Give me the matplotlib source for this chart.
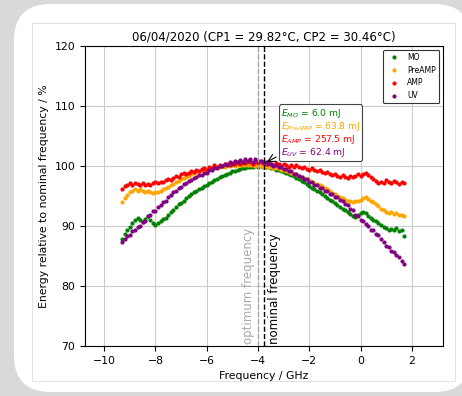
import matplotlib
matplotlib.use("Agg")
import matplotlib.pyplot as plt
from matplotlib.patches import FancyBboxPatch, Rectangle
from matplotlib.offsetbox import TextArea, VPacker, AnnotationBbox

# frequency scan (GHz)
freq = [-9.3, -9.2, -9.1, -9.0, -8.9, -8.8, -8.7, -8.6, -8.5, -8.4,
        -8.3, -8.2, -8.1, -8.0, -7.9, -7.8, -7.7, -7.6, -7.5, -7.4,
        -7.3, -7.2, -7.1, -7.0, -6.9, -6.8, -6.7, -6.6, -6.5, -6.4,
        -6.3, -6.2, -6.1, -6.0, -5.9, -5.8, -5.7, -5.6, -5.5, -5.4,
        -5.3, -5.2, -5.1, -5.0, -4.9, -4.8, -4.7, -4.6, -4.5, -4.4,
        -4.3, -4.2, -4.1, -4.0, -3.9, -3.8, -3.7, -3.6, -3.5, -3.4,
        -3.3, -3.2, -3.1, -3.0, -2.9, -2.8, -2.7, -2.6, -2.5, -2.4,
        -2.3, -2.2, -2.1, -2.0, -1.9, -1.8, -1.7, -1.6, -1.5, -1.4,
        -1.3, -1.2, -1.1, -1.0, -0.9, -0.8, -0.7, -0.6, -0.5, -0.4,
        -0.3, -0.2, -0.1, 0.0, 0.1, 0.2, 0.3, 0.4, 0.5, 0.6,
        0.7, 0.8, 0.9, 1.0, 1.1, 1.2, 1.3, 1.4, 1.5, 1.6,
        1.7]

# energy relative to nominal frequency (%)
mo = [87.8, 88.6, 89.3, 89.9, 90.5, 91.0, 91.3, 91.0, 90.7, 91.2,
      91.7, 91.0, 90.5, 90.2, 90.5, 90.8, 91.1, 91.4, 91.8, 92.3,
      92.7, 93.1, 93.6, 93.9, 94.2, 94.6, 95.0, 95.3, 95.6, 95.9,
      96.2, 96.4, 96.7, 96.9, 97.2, 97.4, 97.7, 97.9, 98.1, 98.3,
      98.5, 98.7, 98.9, 99.1, 99.2, 99.4, 99.5, 99.6, 99.7, 99.8,
      99.8, 99.9, 100.0, 99.9, 100.0, 99.9, 99.8, 99.8, 99.6, 99.6,
      99.4, 99.3, 99.2, 99.0, 98.9, 98.7, 98.5, 98.3, 98.0, 97.8,
      97.5, 97.3, 97.0, 96.7, 96.4, 96.1, 95.8, 95.6, 95.3, 95.0,
      94.7, 94.4, 94.1, 93.8, 93.5, 93.2, 92.9, 92.6, 92.3, 92.0,
      91.6, 91.5, 91.9, 92.2, 92.4, 92.1, 91.7, 91.3, 91.0, 90.8,
      90.5, 90.2, 89.9, 89.6, 89.4, 89.5, 89.3, 89.6, 89.2, 89.4,
      88.4]

preamp = [94.0, 94.6, 95.1, 95.6, 95.8, 96.1, 95.9, 96.1, 95.9, 95.7,
          95.9, 95.6, 95.5, 95.7, 95.6, 95.9, 96.1, 96.3, 96.5, 96.8,
          97.0, 97.3, 97.5, 97.8, 98.0, 98.2, 98.4, 98.6, 98.8, 99.0,
          99.1, 99.3, 99.4, 99.5, 99.6, 99.7, 99.8, 99.8, 99.9, 100.0,
          99.9, 100.1, 100.0, 100.1, 100.0, 100.2, 100.1, 100.2, 100.1, 100.2,
          100.1, 100.2, 100.0, 100.1, 100.0, 99.9, 100.0, 99.8, 99.9, 99.7,
          99.6, 99.6, 99.4, 99.3, 99.2, 99.0, 98.9, 98.7, 98.6, 98.4,
          98.2, 98.0, 97.8, 97.6, 97.4, 97.2, 97.0, 96.8, 96.6, 96.3,
          96.1, 95.8, 95.5, 95.3, 95.0, 94.8, 94.6, 94.4, 94.2, 94.1,
          94.0, 94.2, 94.1, 94.4, 94.6, 94.8, 94.5, 94.2, 94.0, 93.6,
          93.3, 92.9, 92.6, 92.4, 92.2, 92.3, 92.0, 92.1, 91.8, 91.9,
          91.7]

amp = [96.2, 96.6, 96.9, 97.1, 96.9, 97.2, 97.0, 96.8, 97.1, 96.9,
       97.0, 96.8, 97.1, 97.3, 97.1, 97.4, 97.3, 97.6, 97.8, 97.6,
       98.0, 98.3, 98.2, 98.6, 98.8, 98.6, 98.9, 99.2, 99.0, 99.4,
       99.2, 99.5, 99.6, 99.4, 99.8, 99.7, 100.1, 99.9, 100.2, 100.0,
       100.3, 100.4, 100.2, 100.5, 100.3, 100.6, 100.4, 100.7, 100.5, 100.8,
       100.6, 100.4, 100.7, 100.5, 100.8, 100.5, 100.3, 100.6, 100.4, 100.2,
       100.5, 100.3, 100.0, 100.3, 100.1, 99.8, 100.1, 99.9, 100.2, 99.9,
       99.6, 99.8, 99.5, 99.3, 99.6, 99.3, 99.1, 99.3, 99.0, 98.8,
       99.0, 98.7, 98.5, 98.7, 98.4, 98.2, 98.5, 98.2, 98.0, 98.3,
       98.1, 98.4, 98.6, 98.3, 98.7, 98.9, 98.5, 98.2, 97.8, 97.5,
       97.2, 97.4, 97.2, 97.6, 97.4, 97.2, 97.5, 97.3, 97.0, 97.3,
       97.1]

uv = [87.3, 87.9, 88.4, 88.5, 89.1, 89.3, 89.8, 90.0, 90.6, 90.8,
      91.7, 91.8, 92.5, 92.5, 93.2, 93.5, 94.0, 94.2, 94.9, 95.1,
      95.7, 95.9, 96.4, 96.5, 97.0, 97.1, 97.5, 97.6, 98.0, 98.1,
      98.5, 98.5, 98.9, 98.9, 99.3, 99.3, 99.7, 99.7, 100.0, 100.0,
      100.3, 100.2, 100.6, 100.4, 100.8, 100.6, 101.0, 100.7, 101.1, 100.8,
      101.1, 100.7, 101.2, 100.8, 100.9, 100.6, 100.7, 100.3, 100.4, 100.0,
      100.1, 99.8, 99.8, 99.5, 99.5, 99.1, 99.1, 98.7, 98.7, 98.3,
      98.2, 97.8, 97.8, 97.4, 97.3, 96.9, 96.9, 96.4, 96.4, 95.9,
      95.9, 95.4, 95.3, 94.9, 94.8, 94.3, 94.2, 93.7, 93.5, 92.9,
      92.6, 91.9, 91.6, 91.0, 90.9, 90.3, 90.0, 89.4, 89.3, 88.7,
      88.5, 87.9, 87.4, 86.7, 86.5, 85.9, 85.6, 85.1, 84.9, 84.2,
      83.6]

series_names = ["MO", "PreAMP", "AMP", "UV"]
series_colors = ["green", "orange", "red", "purple"]
series_values = [mo, preamp, amp, uv]
pulse_energy = [6.0, 63.8, 257.5, 62.4]   # mJ

optimum_freq = -4.0
nominal_freq = -3.76

fig = plt.figure(figsize=(4.62, 3.96), dpi=100, facecolor="#d9d9d9")

# rounded white card behind the plot
card = FancyBboxPatch((0.03, 0.01), 0.99, 0.98,
                      boxstyle="round,pad=0,rounding_size=0.08",
                      mutation_aspect=462 / 396, transform=fig.transFigure,
                      facecolor="white", edgecolor="none", zorder=0)
fig.add_artist(card)
frame = Rectangle((32 / 462, 1 - 381 / 396), (455 - 32) / 462, (381 - 23) / 396,
                  transform=fig.transFigure, fill=False,
                  edgecolor="#e2e2e2", lw=0.8, zorder=0.5)
fig.add_artist(frame)

ax = fig.add_axes([0.184, 0.126, 0.775, 0.758])

for name, color, vals in zip(series_names, series_colors, series_values):
    ax.plot(freq, vals, ".", color=color, markersize=4, label=name)

ax.axvline(optimum_freq, color="#aaaaaa", ls="--", lw=1)
ax.axvline(nominal_freq, color="black", ls="--", lw=1)
ax.text(optimum_freq - 0.12, 70.4, "optimum frequency", rotation=90,
        color="#aaaaaa", ha="right", va="bottom", fontsize=8.5)
ax.text(nominal_freq + 0.16, 70.4, "nominal frequency", rotation=90,
        color="black", ha="left", va="bottom", fontsize=8.5)

# box with pulse energies
rows = [TextArea(f"$E_{{{n}}}$ = {e} mJ",
                 textprops=dict(color=c, fontsize=6.6))
        for n, c, e in zip(series_names, series_colors, pulse_energy)]
pack = VPacker(children=rows, align="left", pad=0, sep=0)
ab = AnnotationBbox(pack, xy=(nominal_freq, 100.4), xybox=(-3.1, 109.9),
                    xycoords="data", boxcoords="data", box_alignment=(0, 1),
                    pad=0.2,
                    bboxprops=dict(boxstyle="round,pad=0.15", edgecolor="#444444",
                                   facecolor="white", lw=0.8),
                    arrowprops=dict(arrowstyle="->", color="black", lw=0.8))
ax.add_artist(ab)

ax.set_xlim(-10.75, 3.22)
ax.set_ylim(70, 120)
ax.set_xticks([-10, -8, -6, -4, -2, 0, 2])
ax.set_yticks([70, 80, 90, 100, 110, 120])
ax.tick_params(labelsize=7.8)
ax.grid(True, color="#cccccc", lw=0.8)
ax.set_axisbelow(True)

ax.set_title("06/04/2020 (CP1 = 29.82°C, CP2 = 30.46°C)", fontsize=8.5, pad=4)
ax.set_xlabel("Frequency / GHz", fontsize=7.8)
ax.set_ylabel("Energy relative to nominal frequency / %", fontsize=7.8)

leg = ax.legend(loc="upper right", fontsize=5.5, framealpha=1, fancybox=True)
leg.get_frame().set_edgecolor("#333333")
leg.get_frame().set_linewidth(0.8)

fig.savefig("out.png", dpi=100, facecolor=fig.get_facecolor())
